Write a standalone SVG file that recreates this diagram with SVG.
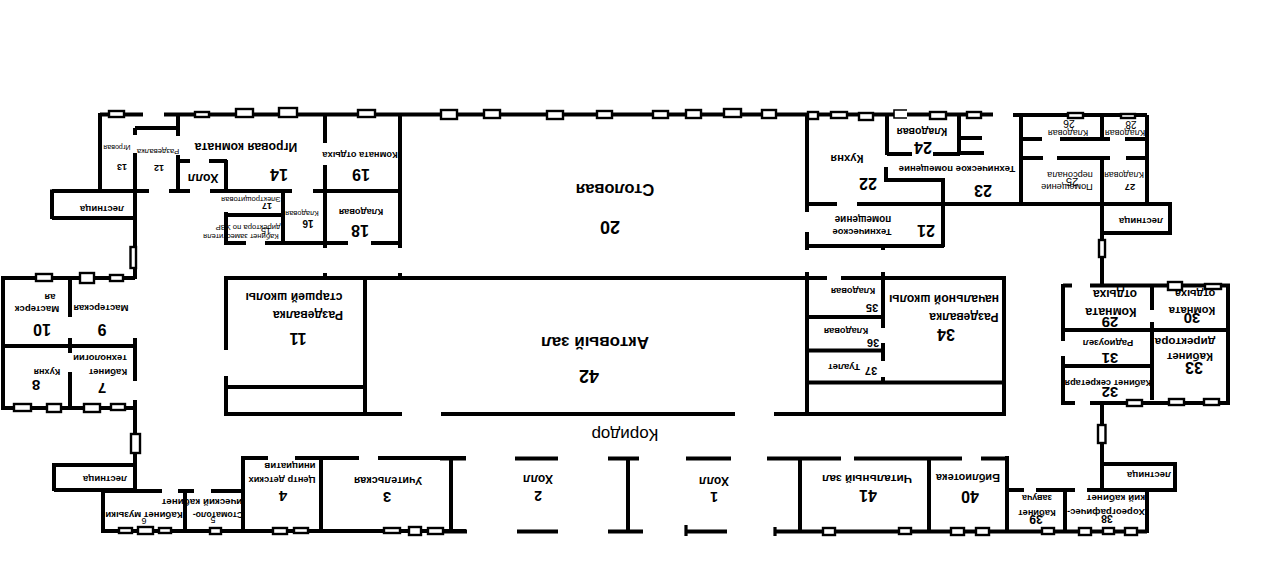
<svg xmlns="http://www.w3.org/2000/svg" width="1280" height="585" viewBox="0 0 1280 585">
<style>
.w{fill:none;stroke:#000;stroke-width:4}
.t{stroke-width:3.2}
.n{fill:#fff;stroke:#000;stroke-width:2.4}
text{font-family:"Liberation Sans",Arial,sans-serif;fill:#000;text-anchor:middle;dominant-baseline:central;font-weight:700}
.r{font-weight:400}
</style>
<rect width="1280" height="585" fill="#fff"/>
<g id="walls">
<path class="w" d="M100 114.500H143M164 114.500H993M1013 115H1147M100 113V191M135 128V135M135 128H178M178 113V136M135 153V279M178 155V191M178 161H190M209 161H227M226 160V191M52 191H149M169 191H190M210 191H292M313 191H400M52 189.500V219M52 218H135M226 212V245M226 215H283M283 189V244M226 243H246M265 243H348M371 243H400M325 113V143M325 165V248M400 113V248"/>
<path class="w" d="M3 278H135M3 276V410M70 278V317M70 338V353M3 346H135M135 338V381M135 400V490M70 372V408M3 408H135M54 465H135M54 463V491M54 490H135M103 491H162M178 491H194M211 491H243M103 489V533M185 491V531M243 456V533M243 458H268M295 458H359M378 458H466M321 458V531M451 458V531M103 531H466"/>
<path class="w" d="M226 278H827M841 278H1005M226 276V350M226 376V416M226 387H365M365 278V414M226 414H402M441 414H735M774 414H1006M1004 276V416M325 273V278M400 273V278M807 272V416M807 382.500H1003M807 317H883M807 350.500H883M883 272V328M883 343V361M883 377V382"/>
<path class="w" d="M440 458.500H466M515 458.500H558M608 458.500H639M686 458.500H731M767 458.500H841M854 458.500H962M981 458.500H1007M440 531.500H467M517 531.500H558M608 531.500H643M686 531.500H727M775 531.500H1147M628 458V531M800 458V531M929 458V531"/>
<path class="w t" d="M686 525V536M775 527V536"/>
<path class="w" d="M807 113V212M807 232V250M807 204H837M857 204H1147M807 246H944M883 245V250M943 180V247M886 180H945M886 167V182M887 115V155M887 154H912M933 154H960M959 115V155M959 138H982M959 153H984M1021 115V204M1021 139H1042M1060 139H1110M1125 139H1147M1021 158H1043M1057 158H1110M1126 158H1146M1102 115V139M1102 158V287M1147 115V204M1102 204H1172M1170 204V235M1102 233H1172"/>
<path class="w" d="M1063 285.500H1072M1090 285.500H1230M1063 284V341M1063 356V405M1063 403H1075M1090 403H1230M1152 285V310M1152 322V400M1063 330H1228M1063 366H1152M1228 285V403M1102 403V490M1102 464H1177M1175 464V492M1102 490H1177M1007 490H1024M1036 490H1075M1087 490H1147M1147 488V533M1065 490V532M1007 456V533"/>
</g>
<g id="windows">
<rect class="n" x="109" y="111" width="15" height="6"/><rect class="n" x="195" y="112" width="14" height="5"/><rect class="n" x="236" y="109" width="17" height="8"/><rect class="n" x="279" y="108" width="18" height="9"/><rect class="n" x="358" y="110" width="17" height="7"/><rect class="n" x="441" y="110" width="16" height="9"/><rect class="n" x="484" y="110" width="16" height="8"/><rect class="n" x="547" y="111" width="16" height="8"/><rect class="n" x="597" y="111" width="15" height="7"/><rect class="n" x="653" y="111" width="15" height="7"/><rect class="n" x="686" y="110" width="15" height="8"/><rect class="n" x="724" y="109" width="17" height="8"/><rect class="n" x="762" y="110" width="14" height="8"/><rect class="n" x="808" y="112" width="10" height="7"/><rect class="n" x="831" y="112" width="16" height="6"/><rect class="n" x="859" y="113" width="14" height="7"/><path fill="#fff" stroke="#000" stroke-width="1.600" d="M907 110H894V118H907"/><rect class="n" x="930" y="112" width="16" height="7"/><rect class="n" x="967" y="112" width="14" height="6"/><rect class="n" x="1068" y="113" width="15" height="5"/><rect class="n" x="1121" y="114" width="14" height="4"/>
<rect class="n" x="36" y="274" width="16" height="7"/><rect class="n" x="80" y="273" width="14" height="10"/><rect class="n" x="110" y="275" width="13" height="6"/><rect class="n" x="130.500" y="247" width="5.500" height="21"/>
<rect class="n" x="14" y="404" width="17" height="7"/><rect class="n" x="47" y="404" width="14" height="8"/><rect class="n" x="84" y="404" width="16" height="8"/><rect class="n" x="111" y="404" width="14" height="6"/><rect class="n" x="131" y="434" width="9" height="19"/>
<rect class="n" x="119" y="528" width="13" height="5"/><rect class="n" x="138" y="527" width="15" height="7"/><rect class="n" x="159" y="528" width="12" height="5"/><rect class="n" x="210" y="528" width="11" height="6"/><rect class="n" x="273" y="528" width="14" height="6"/><rect class="n" x="294" y="528" width="14" height="5"/><rect class="n" x="384" y="528" width="16" height="5"/><rect class="n" x="409" y="527" width="12" height="8"/><rect class="n" x="428" y="528" width="15" height="6"/>
<rect class="n" x="823" y="528" width="12" height="7"/><rect class="n" x="899" y="528" width="12" height="6"/><rect class="n" x="951" y="528" width="13" height="7"/><rect class="n" x="976" y="528" width="13" height="7"/><rect class="n" x="1042" y="528" width="12" height="6"/><rect class="n" x="1079" y="528" width="12" height="7"/><rect class="n" x="1103" y="528" width="11" height="6"/><rect class="n" x="1125" y="528" width="12" height="7"/>
<rect class="n" x="1099" y="240" width="6" height="17"/><rect class="n" x="1098" y="425" width="7.500" height="18"/>
<rect class="n" x="1168" y="282" width="14" height="8"/><rect class="n" x="1205" y="284" width="16" height="5"/><rect class="n" x="1127" y="400" width="15" height="6"/><rect class="n" x="1169" y="399" width="15" height="6"/><rect class="n" x="1204" y="399" width="15" height="6"/>
</g>
<g id="labels">
<text transform="translate(117 147) rotate(180)" font-size="7.100" class="r">Игровая</text>
<text transform="translate(122 167) rotate(180)" font-size="9">13</text>
<text transform="translate(158 151) rotate(180)" font-size="7.800" class="r">Раздевалка</text>
<text transform="translate(159 168) rotate(180)" font-size="9">12</text>
<text transform="translate(246 147) rotate(180)" font-size="12.200">Игровая комната</text>
<text transform="translate(203 178) rotate(180)" font-size="12.300">Холл</text>
<text transform="translate(279 174) rotate(180)" font-size="16">14</text>
<text transform="translate(360 155) rotate(180)" font-size="9.300">Комната отдыха</text>
<text transform="translate(361 174) rotate(180)" font-size="16">19</text>
<text transform="translate(361 212) rotate(180)" font-size="9.300">Кладовая</text>
<text transform="translate(360 230) rotate(180)" font-size="16">18</text>
<text transform="translate(302 213) rotate(180)" font-size="7.500" class="r">Кладовая</text>
<text transform="translate(308 223) rotate(180)" font-size="10">16</text>
<text transform="translate(251 199) rotate(180)" font-size="7.600" class="r">Электрощитовая</text>
<text transform="translate(267 206) rotate(180)" font-size="9">17</text>
<text transform="translate(241 236) rotate(180)" font-size="7.600" class="r">Кабинет заместителя</text>
<text transform="translate(248 227) rotate(180)" font-size="7.700" class="r">директора по УВР</text>
<text transform="translate(266 231) rotate(180)" font-size="9" class="r">15</text>
<text transform="translate(102 209) rotate(180)" font-size="9.500">лестница</text>
<text transform="translate(105 479) rotate(180)" font-size="9.500">лестница</text>
<text transform="translate(1141 221) rotate(180)" font-size="9.500">лестница</text>
<text transform="translate(1149 475) rotate(180)" font-size="9.500">лестница</text>
<text transform="translate(37 309) rotate(180)" font-size="9.500">Мастерск</text>
<text transform="translate(50 297) rotate(180)" font-size="9.500">ая</text>
<text transform="translate(101 308) rotate(180)" font-size="9.500">Мастерская</text>
<text transform="translate(42 329) rotate(180)" font-size="16">10</text>
<text transform="translate(102 329) rotate(180)" font-size="16">9</text>
<text transform="translate(108 372) rotate(180)" font-size="9.500">Кабинет</text>
<text transform="translate(100 358) rotate(180)" font-size="9.500">технологии</text>
<text transform="translate(47 372) rotate(180)" font-size="9.100">Кухня</text>
<text transform="translate(36 385) rotate(180)" font-size="15">8</text>
<text transform="translate(102 388) rotate(180)" font-size="15">7</text>
<text transform="translate(144 515) rotate(180)" font-size="9.600">Кабинет музыки</text>
<text transform="translate(144 521) rotate(180)" font-size="9" class="r">6</text>
<text transform="translate(218 515) rotate(180)" font-size="8.900">Стоматоло-</text>
<text transform="translate(202 502) rotate(180)" font-size="9.800">ический кабинет</text>
<text transform="translate(213 520) rotate(180)" font-size="9" class="r">5</text>
<text transform="translate(282 480) rotate(180)" font-size="9.400">Центр детских</text>
<text transform="translate(290 466) rotate(180)" font-size="9.600">инициатив</text>
<text transform="translate(283 496) rotate(180)" font-size="15">4</text>
<text transform="translate(388 481) rotate(180)" font-size="10.800">Учительская</text>
<text transform="translate(387 497) rotate(180)" font-size="15">3</text>
<text transform="translate(298 338) rotate(180)" font-size="16">11</text>
<text transform="translate(308 315) rotate(180)" font-size="12.200">Раздевалка</text>
<text transform="translate(294 297) rotate(180)" font-size="12.300">старшей школы</text>
<text transform="translate(595 342) rotate(180)" font-size="17">Актовый зал</text>
<text transform="translate(589 376) rotate(180)" font-size="18">42</text>
<text transform="translate(615 190) rotate(180)" font-size="16.500">Столовая</text>
<text transform="translate(610 227) rotate(180)" font-size="18">20</text>
<text transform="translate(625 434) rotate(180)" font-size="17" class="r">Коридор</text>
<text transform="translate(538 479) rotate(180)" font-size="12">Холл</text>
<text transform="translate(538 496) rotate(180)" font-size="14">2</text>
<text transform="translate(714 481) rotate(180)" font-size="12">Холл</text>
<text transform="translate(714 497) rotate(180)" font-size="14">1</text>
<text transform="translate(867 479) rotate(180)" font-size="11.800">Читальный зал</text>
<text transform="translate(868 495) rotate(180)" font-size="16">41</text>
<text transform="translate(968 478) rotate(180)" font-size="10.900">Библиотека</text>
<text transform="translate(970 496) rotate(180)" font-size="16">40</text>
<text transform="translate(1037 513) rotate(180)" font-size="9.300">Кабинет</text>
<text transform="translate(1037 498) rotate(180)" font-size="9">завуча</text>
<text transform="translate(1036 519) rotate(180)" font-size="12">39</text>
<text transform="translate(1106 512) rotate(180)" font-size="9.600">Хореографичес-</text>
<text transform="translate(1116 498) rotate(180)" font-size="9.900">кий кабинет</text>
<text transform="translate(1107 519) rotate(180)" font-size="10.500">38</text>
<text transform="translate(847 159) rotate(180)" font-size="11.300">Кухня</text>
<text transform="translate(868 183) rotate(180)" font-size="16">22</text>
<text transform="translate(922 132) rotate(180)" font-size="10.600">Кладовая</text>
<text transform="translate(923 147) rotate(180)" font-size="16">24</text>
<text transform="translate(957 169) rotate(180)" font-size="9.600">Техническое помещение</text>
<text transform="translate(983 190) rotate(180)" font-size="16">23</text>
<text transform="translate(1068 133) rotate(180)" font-size="9" class="r">Кладовая</text>
<text transform="translate(1069 124) rotate(180)" font-size="10.500" class="r">26</text>
<text transform="translate(1125 133) rotate(180)" font-size="9" class="r">Кладовая</text>
<text transform="translate(1131 124) rotate(180)" font-size="10" class="r">28</text>
<text transform="translate(1124 175) rotate(180)" font-size="8.900" class="r">Кладовая</text>
<text transform="translate(1130 187) rotate(180)" font-size="9.500">27</text>
<text transform="translate(1067 187) rotate(180)" font-size="9.300" class="r">Помещение</text>
<text transform="translate(1070 175) rotate(180)" font-size="9.200" class="r">персонала</text>
<text transform="translate(1072 182) rotate(180)" font-size="11" class="r">25</text>
<text transform="translate(862 232) rotate(180)" font-size="9.500">Техническое</text>
<text transform="translate(863 219) rotate(180)" font-size="10">помещение</text>
<text transform="translate(926 230) rotate(180)" font-size="16">21</text>
<text transform="translate(964 317) rotate(180)" font-size="12">Раздевалка</text>
<text transform="translate(944 299) rotate(180)" font-size="12.200">начальной школы</text>
<text transform="translate(946 334) rotate(180)" font-size="16">34</text>
<text transform="translate(853 291) rotate(180)" font-size="9.300">Кладовая</text>
<text transform="translate(872 308) rotate(180)" font-size="11">35</text>
<text transform="translate(846 331) rotate(180)" font-size="9.300">Кладовая</text>
<text transform="translate(873 343) rotate(180)" font-size="11">36</text>
<text transform="translate(844 367) rotate(180)" font-size="9.600">Туалет</text>
<text transform="translate(871 371) rotate(180)" font-size="11">37</text>
<text transform="translate(1111 312) rotate(180)" font-size="12.300">Комната</text>
<text transform="translate(1115 294) rotate(180)" font-size="12">отдыха</text>
<text transform="translate(1110 322) rotate(180)" font-size="15">29</text>
<text transform="translate(1192 311) rotate(180)" font-size="11.200">Комната</text>
<text transform="translate(1195 294) rotate(180)" font-size="11">отдыха</text>
<text transform="translate(1192 318) rotate(180)" font-size="15">30</text>
<text transform="translate(1108 343) rotate(180)" font-size="9.600">Радиоузел</text>
<text transform="translate(1110 358) rotate(180)" font-size="15">31</text>
<text transform="translate(1108 383) rotate(180)" font-size="9.300">Кабинет секретаря</text>
<text transform="translate(1110 392) rotate(180)" font-size="15">32</text>
<text transform="translate(1190 357) rotate(180)" font-size="11.400">Кабинет</text>
<text transform="translate(1185 342) rotate(180)" font-size="11.700">директора</text>
<text transform="translate(1194 367) rotate(180)" font-size="16">33</text>
</g>
</svg>
